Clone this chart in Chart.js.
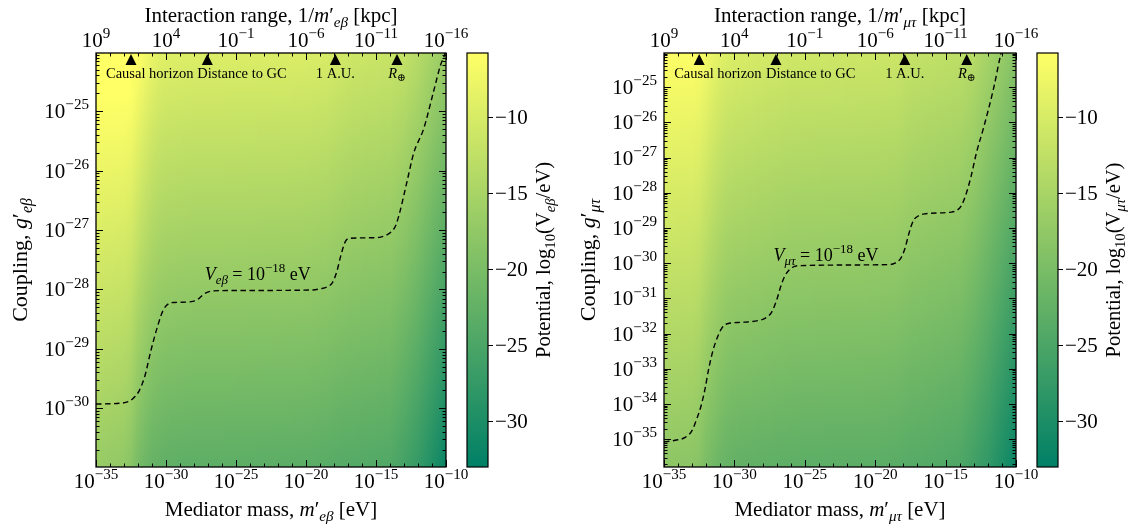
<!DOCTYPE html>
<html>
<head>
<meta charset="utf-8">
<script src="https://cdn.jsdelivr.net/npm/chart.js@4.4.1/dist/chart.umd.min.js"></script>
<style>
  html, body { margin: 0; padding: 0; background: #fff; }
  #wrap { position: relative; width: 1133px; height: 529px; }
  canvas { position: absolute; top: 0; }
</style>
</head>
<body>
<div id="wrap">
  <canvas id="left" width="566" height="529" style="left:0"></canvas>
  <canvas id="right" width="567" height="529" style="left:566px"></canvas>
</div>
<script>
// log10 of mediator mass [eV] at which the heat map colours were read
const massNodes = [-35, -33, -32.5, -32, -31.5, -31, -30.5, -30, -28, -26, -20, -18.5, -17.5, -16.5, -14, -13, -12, -11, -10];
// log10(V/eV) read at the top and bottom edge of each panel
const ebTop = [-4.3, -4.3, -4.6, -5.7, -7.0, -8.1, -8.9, -9.2, -9.5, -9.5, -9.7, -10.0, -10.6, -11.1, -11.6, -12.2, -13.5, -15.2, -16.8];
const ebBottom = [-16.8, -17.6, -18.4, -20.3, -21.4, -22.2, -22.5, -22.8, -23.1, -23.1, -23.3, -23.6, -23.9, -24.0, -24.4, -25.8, -27.4, -29.6, -32.0];
const mtTop = [-6.0, -6.0, -6.3, -7.1, -8.2, -9.0, -9.6, -9.8, -10.4, -10.9, -11.2, -11.3, -12.0, -12.3, -12.8, -13.6, -15.3, -16.9, -18.8];
const mtBottom = [-17.9, -18.2, -18.7, -20.1, -20.9, -21.7, -22.2, -22.5, -22.8, -23.1, -23.3, -23.5, -23.9, -24.0, -24.7, -26.1, -27.7, -29.9, -32.0];

// V = 1e-18 eV contour, log10 mass and log10 coupling
const ebContourM = [-35, -33.5, -32.6, -32.2, -31.9, -31.5, -31.1, -30.6, -30.2, -29.8, -29.4, -28.3, -27.8, -27.3, -26.8, -26, -19.5, -19, -18.5, -18.1, -17.8, -17.5, -17.2, -16.9, -15, -14.4, -13.9, -13.6, -13.3, -12.8, -12.3, -11.6, -10.9, -10.4, -10.05, -9.8];
const ebContourG = [-29.93, -29.92, -29.88, -29.8, -29.7, -29.45, -29.05, -28.62, -28.35, -28.24, -28.22, -28.21, -28.18, -28.08, -28.03, -28.02, -28.01, -27.99, -27.96, -27.88, -27.7, -27.42, -27.2, -27.14, -27.13, -27.1, -27.03, -26.93, -26.7, -26.2, -25.7, -25.3, -24.68, -24.23, -24.0, -23.6];
const mtContourM = [-35, -34.2, -33.5, -33.0, -32.7, -32.4, -32.1, -31.8, -31.5, -31.2, -30.9, -30.5, -29.5, -28.3, -27.8, -27.35, -27.0, -26.7, -26.4, -26.0, -25.4, -19.0, -18.6, -18.2, -17.9, -17.6, -17.3, -16.95, -16.5, -14.6, -14.2, -13.9, -13.6, -13.2, -12.8, -12.3, -11.6, -11.1, -10.6];
const mtContourG = [-35.08, -35.03, -34.95, -34.75, -34.45, -34.1, -33.6, -32.95, -32.45, -32.1, -31.85, -31.72, -31.68, -31.63, -31.56, -31.39, -31.05, -30.65, -30.35, -30.15, -30.07, -30.04, -30.0, -29.87, -29.6, -29.15, -28.8, -28.66, -28.6, -28.55, -28.5, -28.38, -28.1, -27.55, -26.85, -26.15, -25.05, -24.1, -23.3];
// where the contour labels sit (log10 mass, log10 coupling)
const ebLabelAt = [-23.45, -27.84];
const mtLabelAt = [-23.5, -29.93];

// reference scales marked along the top
const markerNames = ['Causal horizon', 'Distance to GC', '1 A.U.', 'R⊕'];
const markerMass = [-32.5, -27.05, -17.9, -13.5];

// tick values
const massTicks = [-35, -30, -25, -20, -15, -10];
const rangeTicks = [9, 4, -1, -6, -11, -16];
const ebCouplingTicks = [-30, -29, -28, -27, -26, -25];
const mtCouplingTicks = [-35, -34, -33, -32, -31, -30, -29, -28, -27, -26, -25];
const potentialTicks = [-10, -15, -20, -25, -30];
const potentialMin = -33, potentialMax = -5.8;

const FONT = '"Liberation Serif", "DejaVu Serif", serif';
const P = (t, i, s) => ({ t: t, i: !!i, s: s || 0 });

function fontStr(size, it) { return (it ? 'italic ' : '') + size + 'px ' + FONT; }

function richWidth(ctx, parts, size) {
  let w = 0;
  for (const p of parts) {
    ctx.font = fontStr(p.s ? size * 0.72 : size, p.i);
    w += ctx.measureText(p.t).width;
  }
  return w;
}

function drawRich(ctx, parts, x, y, size, align) {
  const w = richWidth(ctx, parts, size);
  let cx = align === 'center' ? x - w / 2 : align === 'right' ? x - w : x;
  ctx.textAlign = 'left';
  ctx.textBaseline = 'alphabetic';
  ctx.fillStyle = '#000';
  for (const p of parts) {
    ctx.font = fontStr(p.s ? size * 0.72 : size, p.i);
    const dy = p.s === 1 ? -size * 0.42 : p.s === -1 ? size * 0.22 : 0;
    ctx.fillText(p.t, cx, y + dy);
    cx += ctx.measureText(p.t).width;
  }
}

function pow10(e) { return [P('10'), P(String(e).replace('-', '−'), 0, 1)]; }

function summer(v) {
  let t = (v - potentialMin) / (potentialMax - potentialMin);
  t = Math.max(0, Math.min(1, t));
  return 'rgb(' + Math.round(255 * t) + ',' + Math.round(255 * (0.5 + 0.5 * t)) + ',102)';
}

function atMass(vals, m) {
  if (m <= massNodes[0]) return vals[0];
  for (let i = 1; i < massNodes.length; i++) {
    if (m <= massNodes[i]) {
      const f = (m - massNodes[i - 1]) / (massNodes[i] - massNodes[i - 1]);
      return vals[i - 1] + f * (vals[i] - vals[i - 1]);
    }
  }
  return vals[vals.length - 1];
}

function makePanel(cfg) {
  return {
    id: 'panel',
    beforeDatasetsDraw(chart) {
      const { ctx, chartArea: a, scales: { x, y } } = chart;
      const yT = y.getPixelForValue(y.max), yB = y.getPixelForValue(y.min);
      ctx.save();
      for (let px = a.left; px < a.right; px++) {
        const m = x.getValueForPixel(px + 0.5);
        const vt = atMass(cfg.top, m), vb = atMass(cfg.bottom, m);
        const g = ctx.createLinearGradient(0, yT, 0, yB);
        for (let k = 0; k <= 10; k++) g.addColorStop(k / 10, summer(vt + (vb - vt) * k / 10));
        ctx.fillStyle = g;
        ctx.fillRect(px, yT, Math.min(1.5, a.right - px), yB - yT);
      }
      ctx.restore();
    },
    afterDraw(chart) {
      const { ctx, chartArea: a, scales: { x, y, c } } = chart;
      ctx.save();
      ctx.strokeStyle = '#000';
      ctx.lineWidth = 1;
      ctx.beginPath();
      // x ticks, inward, bottom and top
      for (let v = Math.ceil(x.min); v <= x.max; v++) {
        const px = Math.round(x.getPixelForValue(v)) + 0.5;
        const len = massTicks.includes(v) ? 7 : 3.5;
        ctx.moveTo(px, a.bottom); ctx.lineTo(px, a.bottom - len);
        ctx.moveTo(px, a.top); ctx.lineTo(px, a.top + len);
      }
      // y ticks, log minor ticks
      for (let d = Math.floor(y.min); d <= Math.ceil(y.max); d++) {
        for (let k = 1; k <= 9; k++) {
          const v = d + Math.log10(k);
          if (v < y.min || v > y.max) continue;
          const py = Math.round(y.getPixelForValue(v)) + 0.5;
          const len = k === 1 ? 7 : 3.5;
          ctx.moveTo(a.left, py); ctx.lineTo(a.left + len, py);
          ctx.moveTo(a.right, py); ctx.lineTo(a.right - len, py);
        }
      }
      ctx.stroke();
      // frame
      ctx.lineWidth = 1.3;
      ctx.strokeRect(a.left, a.top, a.right - a.left, a.bottom - a.top);

      // tick labels
      massTicks.forEach((v, i) => {
        const px = x.getPixelForValue(v);
        drawRich(ctx, pow10(v), px, a.bottom + 21, 21, 'center');
        drawRich(ctx, pow10(rangeTicks[i]), px, a.top - 6, 21, 'center');
      });
      cfg.yTicks.forEach(v => {
        drawRich(ctx, pow10(v), a.left - 7, y.getPixelForValue(v) + 7, 21, 'right');
      });

      // axis titles
      const cx = (a.left + a.right) / 2, cy = (a.top + a.bottom) / 2;
      drawRich(ctx, [P('Mediator mass, '), P('m', 1), P('′'), P(cfg.sub, 1, -1), P(' [eV]')], cx, a.bottom + 49, 21, 'center');
      drawRich(ctx, [P('Interaction range, 1/'), P('m', 1), P('′'), P(cfg.sub, 1, -1), P(' [kpc]')], cx, a.top - 31, 21, 'center');
      ctx.save();
      ctx.translate(a.left - 69, cy);
      ctx.rotate(-Math.PI / 2);
      drawRich(ctx, [P('Coupling, '), P('g', 1), P('′'), P(cfg.sub, 1, -1)], 0, 0, 22, 'center');
      ctx.restore();

      // markers along the top
      markerMass.forEach((m, i) => {
        const px = x.getPixelForValue(m);
        ctx.fillStyle = '#000';
        ctx.beginPath();
        ctx.moveTo(px, a.top + 1);
        ctx.lineTo(px + 5.5, a.top + 12);
        ctx.lineTo(px - 5.5, a.top + 12);
        ctx.closePath();
        ctx.fill();
        const parts = markerNames[i] === 'R⊕' ? [P('R', 1), P('⊕', 0, -1)] : [P(markerNames[i])];
        const shift = [-25, -10, 0, 0][i];
        drawRich(ctx, parts, px + shift, a.top + 25, 14.5, shift ? 'left' : 'center');
      });

      // contour label
      drawRich(ctx, [P('V', 1), P(cfg.sub, 1, -1), P(' = 10'), P('−18', 0, 1), P(' eV')],
        x.getPixelForValue(cfg.labelAt[0]), y.getPixelForValue(cfg.labelAt[1]), 18, 'center');

      // colour bar
      const bx = a.right + 21, bw = 21;
      const bT = c.getPixelForValue(potentialMax), bB = c.getPixelForValue(potentialMin);
      const grad = ctx.createLinearGradient(0, bT, 0, bB);
      grad.addColorStop(0, summer(potentialMax));
      grad.addColorStop(1, summer(potentialMin));
      ctx.fillStyle = grad;
      ctx.fillRect(bx, bT, bw, bB - bT);
      ctx.lineWidth = 1.2;
      ctx.strokeStyle = '#000';
      ctx.strokeRect(bx, bT, bw, bB - bT);
      ctx.lineWidth = 1;
      ctx.beginPath();
      potentialTicks.forEach(v => {
        const py = Math.round(c.getPixelForValue(v)) + 0.5;
        ctx.moveTo(bx + bw, py); ctx.lineTo(bx + bw + 5, py);
      });
      ctx.stroke();
      potentialTicks.forEach(v => {
        drawRich(ctx, [P(String(v).replace('-', '−'))], bx + bw + 7, c.getPixelForValue(v) + 7, 21, 'left');
      });
      ctx.save();
      ctx.translate(a.right + 104, cy);
      ctx.rotate(-Math.PI / 2);
      drawRich(ctx, [P('Potential, log'), P('10', 0, -1), P('(V'), P(cfg.sub, 1, -1), P('/eV)')], 0, 0, 20.5, 'center');
      ctx.restore();
      ctx.restore();
    }
  };
}

function makeChart(id, cfg) {
  return new Chart(document.getElementById(id), {
    type: 'scatter',
    data: {
      datasets: [{
        data: cfg.cm.map((m, i) => ({ x: m, y: cfg.cg[i] })),
        showLine: true,
        borderColor: '#000',
        borderWidth: 1.4,
        borderDash: [5.5, 3.5],
        pointRadius: 0,
        cubicInterpolationMode: 'monotone'
      }]
    },
    options: {
      responsive: false,
      animation: false,
      events: [],
      layout: { padding: cfg.pad },
      scales: {
        x: { type: 'linear', min: -35, max: -10, display: false },
        y: { type: 'linear', min: cfg.ymin, max: cfg.ymax, display: false },
        c: { type: 'linear', axis: 'y', position: 'right', min: potentialMin, max: potentialMax, display: false }
      },
      plugins: { legend: { display: false }, tooltip: { enabled: false } }
    },
    plugins: [makePanel(cfg)]
  });
}

makeChart('left', {
  sub: 'eβ', top: ebTop, bottom: ebBottom, cm: ebContourM, cg: ebContourG,
  labelAt: ebLabelAt, yTicks: ebCouplingTicks, ymin: -30.99, ymax: -24.02,
  pad: { left: 96, right: 120, top: 53, bottom: 62 }
});
makeChart('right', {
  sub: 'μτ', top: mtTop, bottom: mtBottom, cm: mtContourM, cg: mtContourG,
  labelAt: mtLabelAt, yTicks: mtCouplingTicks, ymin: -35.79, ymax: -24.03,
  pad: { left: 98, right: 117, top: 53, bottom: 62 }
});
</script>
</body>
</html>
